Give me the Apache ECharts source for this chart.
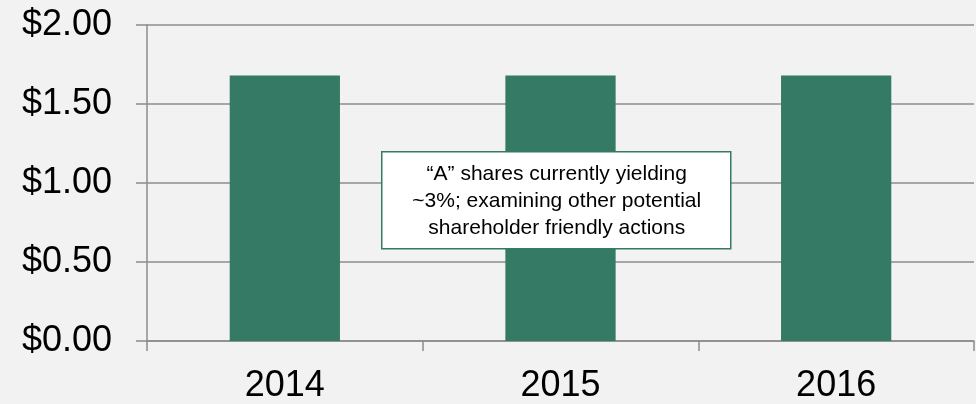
<!DOCTYPE html>
<html>
<head>
<meta charset="utf-8">
<script src="https://cdn.jsdelivr.net/npm/echarts@6/dist/echarts.min.js"></script>
<style>
  html, body { margin: 0; padding: 0; background: #f2f2f2; }
  #chart { width: 976px; height: 404px; }
</style>
</head>
<body>
<div id="chart"></div>
<script>
// 年度股息数据
const years = ['2014', '2015', '2016']
const dividends = [1.68, 1.68, 1.68]
const yTicks = [0, 0.5, 1, 1.5, 2]
const noteLines = [
  '\u201CA\u201D shares currently yielding',
  '~3%; examining other potential',
  'shareholder friendly actions'
]

const font = '"Liberation Sans", Arial, sans-serif'
const chart = echarts.init(document.getElementById('chart'))

const option = {
  backgroundColor: '#f2f2f2',
  animation: false,
  grid: {
    left: 147,
    right: 2,
    top: 25,
    bottom: 63
  },
  xAxis: {
    type: 'category',
    data: years,
    axisLine: { lineStyle: { color: '#8c8c8c', width: 1.5 } },
    axisTick: { show: true, length: 10, lineStyle: { color: '#8c8c8c', width: 1.5 } },
    axisLabel: { color: '#000', fontSize: 36, fontFamily: font, margin: 27 }
  },
  yAxis: {
    type: 'value',
    min: yTicks[0],
    max: yTicks[yTicks.length - 1],
    interval: 0.5,
    axisLine: { show: true, lineStyle: { color: '#8c8c8c', width: 1.5 } },
    axisTick: { show: true, length: 11, lineStyle: { color: '#8c8c8c', width: 1.5 } },
    splitLine: { lineStyle: { color: '#8c8c8c', width: 1.5 } },
    axisLabel: {
      color: '#000',
      fontSize: 36,
      fontFamily: font,
      margin: 35,
      formatter: v => '$' + v.toFixed(2)
    }
  },
  series: [
    {
      type: 'bar',
      data: dividends,
      barWidth: '40%',
      itemStyle: { color: '#357a64' }
    }
  ],
  graphic: [
    {
      type: 'group',
      left: 381,
      top: 151,
      z: 100,
      children: [
        {
          type: 'rect',
          z: 100,
          shape: { x: 0, y: 0, width: 349, height: 97 },
          style: { fill: '#ffffff', stroke: '#357a64', lineWidth: 1.5 }
        },
        {
          type: 'text',
          z: 101,
          x: 175,
          y: 49,
          style: {
            text: noteLines.join('\n'),
            fill: '#000',
            font: '21px ' + font,
            lineHeight: 27,
            align: 'center',
            verticalAlign: 'middle'
          }
        }
      ]
    }
  ]
}

chart.setOption(option)
</script>
</body>
</html>
